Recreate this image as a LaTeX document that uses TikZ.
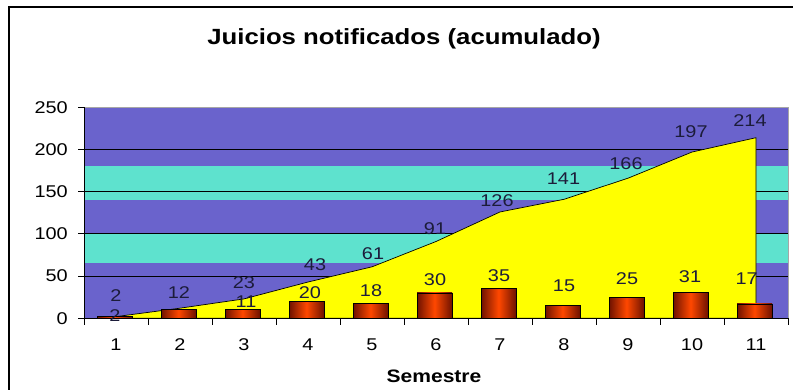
\documentclass[tikz,border=0pt]{standalone}
\usepackage{fontspec}
\setmainfont{Liberation Sans}[FakeStretch=1.17]
\definecolor{bandpurple}{RGB}{106,99,204}
\definecolor{bandteal}{RGB}{94,226,206}
\definecolor{areayellow}{RGB}{255,255,0}
\definecolor{bardark}{RGB}{110,18,0}
\definecolor{barlight}{RGB}{255,72,0}
\definecolor{lbl}{RGB}{28,28,58}
\tikzset{
  numfont/.style={font=\fontsize{17}{17}\selectfont, inner sep=0pt},
  datalbl/.style={numfont, text=lbl},
  gridln/.style={black, line width=0.9pt},
  axisln/.style={black, line width=1pt},
  barbox/.style={draw=black, line width=0.8pt, left color=bardark, right color=bardark, middle color=barlight},
  areafill/.style={draw=black, fill=areayellow, line width=0.7pt},
}
\begin{document}
\begin{tikzpicture}[x=1pt, y=-1pt]
\useasboundingbox (0,0) rectangle (793,389);
\clip (0,0) rectangle (793,389);
\fill[white] (0,0) rectangle (793,389);
% outer frame
\draw[black, line width=1.6pt] (9,400) -- (9,7) -- (800,7);
% bands (value v -> y = 318.3 - 0.844 v)
\def\Y#1{318.3-0.844*#1}
\fill[bandpurple] (84.3,{\Y{0}}) rectangle (788,{\Y{65}});
\fill[bandteal] (84.3,{\Y{65}}) rectangle (788,{\Y{100}});
\fill[bandpurple] (84.3,{\Y{100}}) rectangle (788,{\Y{140}});
\fill[bandteal] (84.3,{\Y{140}}) rectangle (788,{\Y{180}});
\fill[bandpurple] (84.3,{\Y{180}}) rectangle (788,{\Y{250}});
\draw[gray!70, line width=0.6pt] (84.3,{\Y{250}}) -- (788,{\Y{250}}) -- (788,{\Y{0}});
% gridlines
\foreach \v in {50,100,150,200} {
  \draw[gridln] (84.3,{\Y{\v}}) -- (788,{\Y{\v}});
}
% cumulative area
\draw[areafill]
  (116,{\Y{0}}) -- (116,{\Y{2}}) -- (180,{\Y{12}}) -- (244,{\Y{23}}) -- (308,{\Y{43}})
  -- (372,{\Y{61}}) -- (436,{\Y{91}}) -- (500,{\Y{126}}) -- (564,{\Y{141}})
  -- (628,{\Y{166}}) -- (692,{\Y{197}}) -- (756,{\Y{214}}) -- (756,{\Y{0}}) -- cycle;
% bars
\foreach \i/\v in {1/2,2/10,3/11,4/20,5/18,6/30,7/35,8/15,9/25,10/31,11/17} {
  \pgfmathsetmacro{\cx}{116+64*(\i-1)-1.5}
  \draw[barbox] (\cx-17.5,{\Y{0}}) rectangle (\cx+17.5,{\Y{\v}});
}
% axes
\draw[axisln] (84.3,{\Y{250}}) -- (84.3,{\Y{0}}) -- (788,{\Y{0}});
\foreach \v in {0,50,...,250} {
  \draw[axisln] (78,{\Y{\v}}) -- (84.3,{\Y{\v}});
  \node[numfont, anchor=east] (yl\v) at (68,{\Y{\v}}) {\v};
}
\foreach \i in {0,...,11} {
  \draw[axisln] ({84.3+64*\i},{\Y{0}}) -- ({84.3+64*\i},325);
}
\foreach \i in {1,...,11} {
  \node[numfont] (xl\i) at ({116+64*(\i-1)},344.5) {\i};
}
% cumulative labels
\node[datalbl] (c1) at (116,296) {2};
\node[datalbl] (c2) at (179,292.7) {12};
\node[datalbl] (c3) at (244,283) {23};
\node[datalbl] (c4) at (315,265) {43};
\node[datalbl] (c5) at (373,254) {61};
\node[datalbl] (c6) at (435,229) {91};
\node[datalbl] (c7) at (497,201) {126};
\node[datalbl] (c8) at (563.5,179) {141};
\node[datalbl] (c9) at (626,164) {166};
\node[datalbl] (c10) at (691,132) {197};
\node[datalbl] (c11) at (750,121) {214};
% bar labels
\node[datalbl] (b1) at (115,316) {2};
\node[datalbl] (b3) at (246,301.7) {11};
\node[datalbl] (b4) at (310,292.7) {20};
\node[datalbl] (b5) at (371,290.7) {18};
\node[datalbl] (b6) at (435,279.3) {30};
\node[datalbl] (b7) at (499,276) {35};
\node[datalbl] (b8) at (564,286) {15};
\node[datalbl] (b9) at (627,278.3) {25};
\node[datalbl] (b10) at (690,276.7) {31};
\node[datalbl] (b11) at (746.7,278.3) {17};
% titles
\node[font=\fontsize{22}{22}\selectfont\bfseries, inner sep=0pt, anchor=base] (title) at (404,44) {Juicios notificados (acumulado)};
\node[font=\fontsize{18}{18}\selectfont\bfseries, inner sep=0pt, anchor=base] (xtitle) at (434,382) {Semestre};
\end{tikzpicture}
\end{document}
